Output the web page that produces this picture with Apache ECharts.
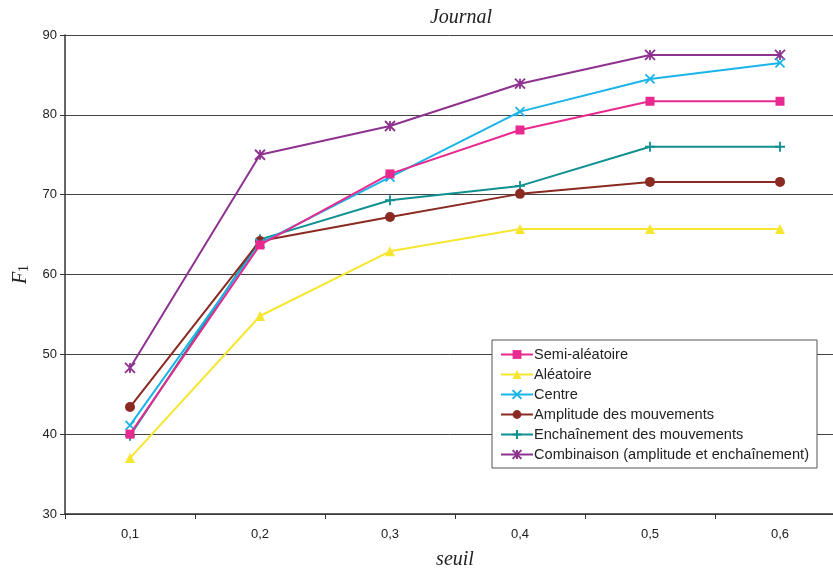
<!DOCTYPE html>
<html><head><meta charset="utf-8">
<script src="https://cdn.jsdelivr.net/npm/echarts@6/dist/echarts.min.js"></script>
<style>html,body{margin:0;padding:0;background:#fff;overflow:hidden}#c{width:833px;height:569px}</style>
</head><body><div id="c"></div>
<script>
const categories = ['0,1','0,2','0,3','0,4','0,5','0,6'];
const seriesNames = ['Semi-aléatoire','Aléatoire','Centre','Amplitude des mouvements','Enchaînement des mouvements','Combinaison (amplitude et enchaînement)'];
const semiAleatoire = [40.0, 63.7, 72.6, 78.1, 81.7, 81.7];
const aleatoire = [37.0, 54.8, 62.9, 65.7, 65.7, 65.7];
const centre = [41.1, 63.9, 72.2, 80.4, 84.5, 86.5];
const amplitude = [43.4, 64.2, 67.2, 70.1, 71.6, 71.6];
const enchainement = [39.8, 64.4, 69.3, 71.1, 76.0, 76.0];
const combinaison = [48.3, 75.0, 78.6, 83.9, 87.5, 87.5];
const yTicks = [30, 40, 50, 60, 70, 80, 90];

const colors = ['#e8298f','#f7e630','#1ab4e8','#8b2a22','#109090','#8e3290'];
const symbols = [
  'rect',
  'triangle',
  'path://M0,0 L10,10 M10,0 L0,10',
  'circle',
  'path://M5,0 L5,10 M0,5 L10,5',
  'path://M0,0 L10,10 M10,0 L0,10 M5,0 L5,10'
];
const sizes = [9, 10, 9, 10, 10, 10];
const datas = [semiAleatoire, aleatoire, centre, amplitude, enchainement, combinaison];
const stroked = [false,false,true,false,true,true];

const chart = echarts.init(document.getElementById('c'));
chart.setOption({
  animation: false,
  title: {
    text: 'Journal', left: 456, top: 3, textAlign: 'center',
    textStyle: {fontFamily: 'Liberation Serif', fontStyle: 'italic', fontWeight: 'normal', fontSize: 20, color: '#222'}
  },
  legend: {
    orient: 'vertical', left: 492, top: 340,
    backgroundColor: '#fff', borderColor: '#555', borderWidth: 1,
    padding: [7, 8, 6, 8], itemGap: 5, itemWidth: 32, itemHeight: 11,
    textStyle: {fontFamily: 'Liberation Sans', fontSize: 14.6, lineHeight: 14, color: '#222', padding: [0,0,0,-4]},
    data: seriesNames
  },
  grid: {left: 65, width: 780, top: 35, height: 479, outerBoundsMode: 'none', containLabel: false},
  xAxis: {
    type: 'category', data: categories, boundaryGap: true,
    name: 'seuil', nameLocation: 'middle', nameGap: 36,
    nameTextStyle: {fontFamily: 'Liberation Serif', fontStyle: 'italic', fontSize: 20, color: '#222'},
    axisLine: {lineStyle: {color: '#333', width: 1.5}},
    axisTick: {show: true, length: 5, lineStyle: {color: '#333'}},
    axisLabel: {fontFamily: 'Liberation Sans', fontSize: 13, color: '#222', margin: 14},
    splitLine: {show: false}
  },
  yAxis: {
    type: 'value', min: yTicks[0], max: yTicks[yTicks.length-1], interval: 10,
    name: '{i|F}{s|1}', nameLocation: 'middle', nameGap: 32, nameRotate: 90,
    nameTextStyle: {rich: {
      i: {fontFamily: 'Liberation Serif', fontStyle: 'italic', fontSize: 20, color: '#222'},
      s: {fontFamily: 'Liberation Serif', fontSize: 14, color: '#222', verticalAlign: 'bottom', padding: [8,0,0,0]}
    }},
    axisLine: {show: true, lineStyle: {color: '#333', width: 1.5}},
    axisTick: {show: true, length: 5, lineStyle: {color: '#333'}},
    axisLabel: {fontFamily: 'Liberation Sans', fontSize: 13, color: '#222', margin: 8},
    splitLine: {show: true, lineStyle: {color: '#444', width: 1}}
  },
  series: seriesNames.map((n, i) => ({
    name: n, type: 'line', data: datas[i],
    symbol: symbols[i], symbolSize: sizes[i], showAllSymbol: true,
    lineStyle: {color: colors[i], width: 2},
    itemStyle: stroked[i] ? {color: colors[i], borderColor: colors[i], borderWidth: 1.8} : {color: colors[i], borderWidth: 0},
    z: 10 - i
  }))
});
</script></body></html>
